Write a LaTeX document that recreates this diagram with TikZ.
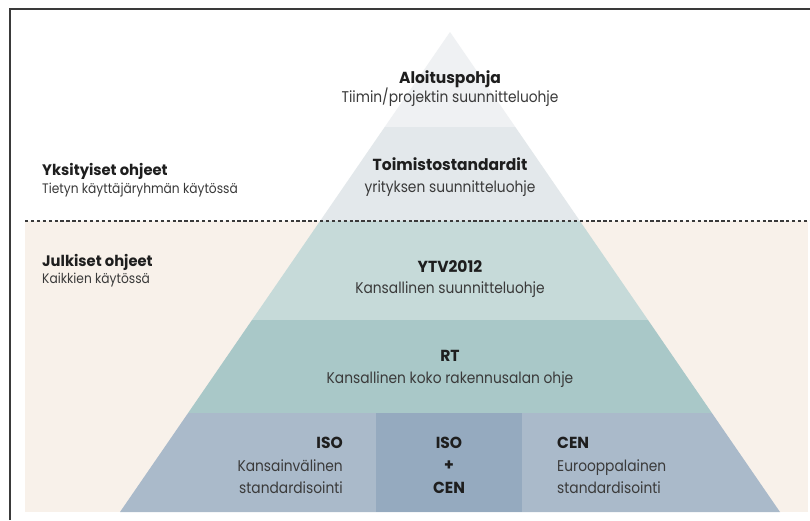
\documentclass[tikz,border=0pt]{standalone}
\usepackage{fontspec}
\setmainfont{Poppins}
\newfontfamily\regfont{Poppins}[FakeStretch=0.89]
\newfontfamily\boldfont{Poppins}[FakeStretch=0.97]
\definecolor{beige}{HTML}{F8F1EA}
\definecolor{bandA}{HTML}{EFF1F3}
\definecolor{bandB}{HTML}{E3E8EB}
\definecolor{bandC}{HTML}{C6DAD9}
\definecolor{bandD}{HTML}{A9C8C8}
\definecolor{bandE}{HTML}{AABACA}
\definecolor{bandmid}{HTML}{95AABF}
\definecolor{ink}{HTML}{1E1E1E}
\definecolor{inksoft}{HTML}{3A3A3A}
\definecolor{frame}{HTML}{3A3A3A}
\begin{document}
\begin{tikzpicture}[x=1pt,y=-1pt,
  ttl/.style={inner sep=0pt, anchor=base, text=ink, font=\boldfont\fontsize{16}{19}\selectfont\bfseries},
  sub/.style={inner sep=0pt, anchor=base, text=inksoft, font=\regfont\fontsize{15.5}{18}\selectfont},
  lttl/.style={inner sep=0pt, anchor=base west, text=ink, font=\boldfont\fontsize{15.2}{18}\selectfont\bfseries},
  lsub/.style={inner sep=0pt, anchor=base west, text=inksoft, font=\regfont\fontsize{13.75}{16}\selectfont}]
\useasboundingbox (0,0) rectangle (810,520);
\fill[white] (0,0) rectangle (810,520);
% public area background
\fill[beige] (25,221) rectangle (808,512);
% pyramid bands
\fill[bandA] (450,32) -- (515.3,127) -- (384.7,127) -- cycle;
\fill[bandB] (384.7,127) -- (515.3,127) -- (579.9,221) -- (320.1,221) -- cycle;
\fill[bandC] (320.1,221) -- (579.9,221) -- (648,320) -- (252,320) -- cycle;
\fill[bandD] (252,320) -- (648,320) -- (711.9,413) -- (188.1,413) -- cycle;
\fill[bandE] (188.1,413) -- (711.9,413) -- (780,512) -- (120,512) -- cycle;
\fill[bandmid] (376,413) rectangle (522,512);
% divider
\draw[frame, line width=1.6pt, dash pattern=on 3.3pt off 2.6pt] (25,221) -- (810,221);
% frame
\draw[frame, line width=2.2pt] (10,520) -- (10,9) -- (810,9);
% texts
\node[ttl] (alo) at (450,83) {Aloituspohja};
\node[sub] (alos) at (450,102) {Tiimin/projektin suunnitteluohje};
\node[ttl] (toi) at (450,170.5) {Toimistostandardit};
\node[sub] (tois) at (450,192) {yrityksen suunnitteluohje};
\node[ttl] (ytv) at (450,272) {YTV2012};
\node[sub] (ytvs) at (450,293) {Kansallinen suunnitteluohje};
\node[ttl] (rt) at (450,361) {RT};
\node[sub] (rts) at (450,383) {Kansallinen koko rakennusalan ohje};
\node[ttl, anchor=base east] (isoL) at (343,448) {ISO};
\node[sub, anchor=base east] (isoL1) at (343,471) {Kansainvälinen};
\node[sub, anchor=base east] (isoL2) at (343,493) {standardisointi};
\node[ttl] (isoM) at (449,448) {ISO};
\node[ttl] (plusM) at (449,470) {+};
\node[ttl] (cenM) at (449,493) {CEN};
\node[ttl, anchor=base west] (cenR) at (557,448) {CEN};
\node[sub, anchor=base west] (cenR1) at (557,471) {Eurooppalainen};
\node[sub, anchor=base west] (cenR2) at (557,493) {standardisointi};
\node[lttl] (yks) at (42,175) {Yksityiset ohjeet};
\node[lsub] (yks1) at (42,193) {Tietyn käyttäjäryhmän käytössä};
\node[lttl] (jul) at (42,266) {Julkiset ohjeet};
\node[lsub] (jul1) at (42,283) {Kaikkien käytössä};
\end{tikzpicture}
\end{document}
